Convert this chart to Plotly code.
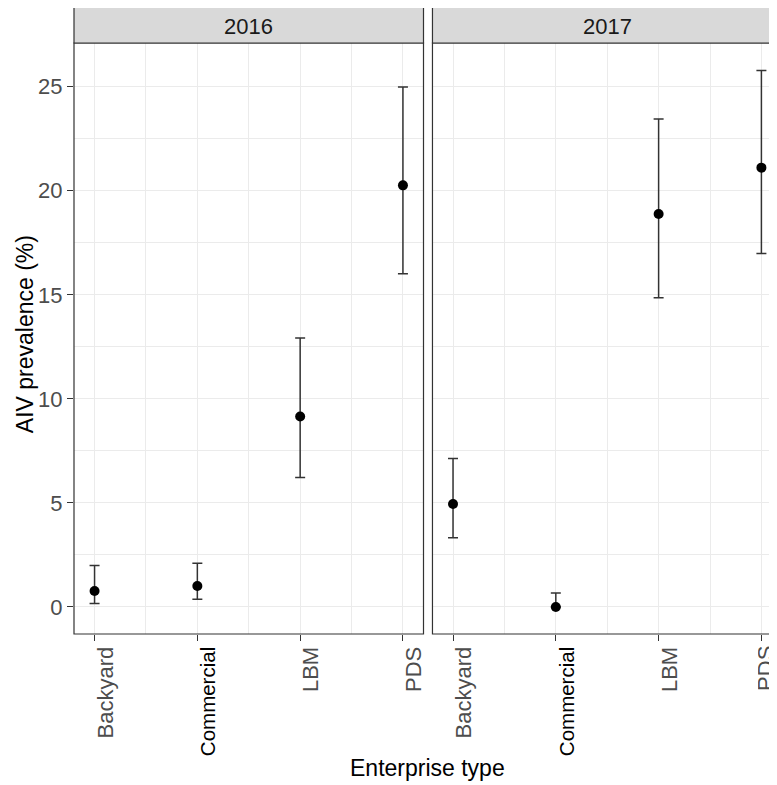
import plotly.graph_objects as go

categories = ["Backyard", "Commercial", "LBM", "PDS"]
years = ["2016", "2017"]

prev_2016 = [0.77, 1.01, 9.15, 20.26]
lower_2016 = [0.16, 0.37, 6.22, 16.01]
upper_2016 = [1.99, 2.10, 12.92, 24.99]

prev_2017 = [4.95, 0.0, 18.88, 21.11]
lower_2017 = [3.32, 0.0, 14.86, 16.99]
upper_2017 = [7.13, 0.67, 23.45, 25.78]

y_ticks = [0, 5, 10, 15, 20, 25]

# page has an 8px body margin, so the figure is sized to end at the window edge
W, H = 769, 777
ML, MR, MT, MB = 66, 0, 0, 151
PW = W - ML - MR
PH = H - MT - MB
panel_w = 351
gap = 9
strip_h = 35

left_dom = [0, panel_w / PW]
right_dom = [(panel_w + gap) / PW, 1]
y_top = (PH - strip_h) / PH
px_per_unit = panel_w / 3.4
right_max = 0.8 + (PW - panel_w - gap) / px_per_unit

FONT = "Liberation Sans, Arial, Helvetica, sans-serif"
xpos = [i + 1 for i in range(len(categories))]

fig = go.Figure()
series = [(prev_2016, lower_2016, upper_2016, "x", "y"),
          (prev_2017, lower_2017, upper_2017, "x2", "y2")]
for prev, lo, up, xa, ya in series:
    fig.add_trace(go.Scatter(
        x=xpos, y=prev, mode="markers", xaxis=xa, yaxis=ya,
        marker=dict(color="black", size=10),
        error_y=dict(type="data", symmetric=False,
                     array=[u - p for u, p in zip(up, prev)],
                     arrayminus=[p - l for p, l in zip(prev, lo)],
                     color="#333333", thickness=1.5, width=5),
        showlegend=False))


def fmt(c):
    return f"<span style='color:black;font-size:20.5px'>{c}</span>" if c == "Commercial" else c


ticktext_left = [fmt(c) for c in categories]
# the last label of the right facet sits at the window edge; it is drawn as an annotation below
ticktext_right = [fmt(c) for c in categories[:-1]] + [""]

xcommon = dict(
    tickmode="array", tickvals=xpos, tickangle=-90,
    ticks="outside", ticklen=6, tickcolor="#333333", tickwidth=1.1,
    tickfont=dict(family=FONT, size=22, color="#4D4D4D"),
    ticklabelshift=11, ticklabelstandoff=-3,
    showgrid=True, gridcolor="#EBEBEB", gridwidth=1.2, zeroline=False,
    minor=dict(tickmode="array", tickvals=[1.5, 2.5, 3.5], showgrid=True,
               gridcolor="#EBEBEB", gridwidth=0.8, ticks=""),
    showline=False,
)

fig.update_layout(
    width=W, height=H,
    margin=dict(l=ML, r=MR, t=MT, b=MB),
    paper_bgcolor="white", plot_bgcolor="white",
    xaxis=dict(domain=left_dom, range=[0.8, 4.2], anchor="y", ticktext=ticktext_left, **xcommon),
    xaxis2=dict(domain=right_dom, range=[0.8, right_max], anchor="y2", ticktext=ticktext_right, **xcommon),
    yaxis=dict(domain=[0, y_top], range=[-1.3, 27.1], anchor="x",
               tickmode="array", tickvals=y_ticks,
               ticks="outside", ticklen=6, tickcolor="#333333", tickwidth=1.1,
               tickfont=dict(family=FONT, size=22, color="#4D4D4D"),
               showgrid=True, gridcolor="#EBEBEB", gridwidth=1.2, zeroline=False,
               minor=dict(dtick=2.5, tick0=0, showgrid=True, gridcolor="#EBEBEB",
                          gridwidth=0.8, ticks="")),
    yaxis2=dict(domain=[0, y_top], range=[-1.3, 27.1], anchor="x2", matches="y",
                tickmode="array", tickvals=y_ticks, showticklabels=False, ticks="",
                showgrid=True, gridcolor="#EBEBEB", gridwidth=1.2, zeroline=False,
                minor=dict(dtick=2.5, tick0=0, showgrid=True, gridcolor="#EBEBEB",
                           gridwidth=0.8, ticks="")),
    font=dict(family=FONT),
)

shapes = []
for dom, x1 in [(left_dom, left_dom[1]), (right_dom, 1.03)]:
    shapes.append(dict(type="rect", xref="paper", yref="paper",
                       x0=dom[0], x1=x1, y0=0, y1=y_top,
                       line=dict(color="#333333", width=1.2),
                       fillcolor="rgba(0,0,0,0)", layer="above"))
    shapes.append(dict(type="rect", xref="paper", yref="paper",
                       x0=dom[0], x1=x1, y0=y_top, y1=1.002,
                       line=dict(color="#333333", width=1.2),
                       fillcolor="#D9D9D9", layer="above"))
fig.update_layout(shapes=shapes)

strip_y = (PH - 18) / PH
right_center = ((panel_w + gap) + panel_w / 2) / PW
annotations = [
    dict(text=years[0], x=left_dom[1] / 2, y=strip_y, xref="paper", yref="paper",
         showarrow=False, xanchor="center", yanchor="middle",
         font=dict(family=FONT, size=22, color="#1A1A1A")),
    dict(text=years[1], x=right_center, y=strip_y, xref="paper", yref="paper",
         showarrow=False, xanchor="center", yanchor="middle",
         font=dict(family=FONT, size=22, color="#1A1A1A")),
    dict(text="AIV prevalence (%)", x=(17 - ML) / PW, y=(PH - 326) / PH,
         xref="paper", yref="paper", showarrow=False, textangle=-90,
         xanchor="center", yanchor="middle",
         font=dict(family=FONT, size=23, color="black")),
    dict(text="Enterprise type", x=(421.5 - ML) / PW, y=(PH - 760) / PH,
         xref="paper", yref="paper", showarrow=False,
         xanchor="center", yanchor="middle",
         font=dict(family=FONT, size=23, color="black")),
    dict(text=categories[-1], x=xpos[-1], xref="x2", xshift=4,
         y=(PH - 637) / PH, yref="paper", showarrow=False, textangle=-90,
         xanchor="center", yanchor="top", height=16, borderpad=0,
         font=dict(family=FONT, size=22, color="#4D4D4D")),
]
fig.update_layout(annotations=annotations)

fig.write_html("out.html")
